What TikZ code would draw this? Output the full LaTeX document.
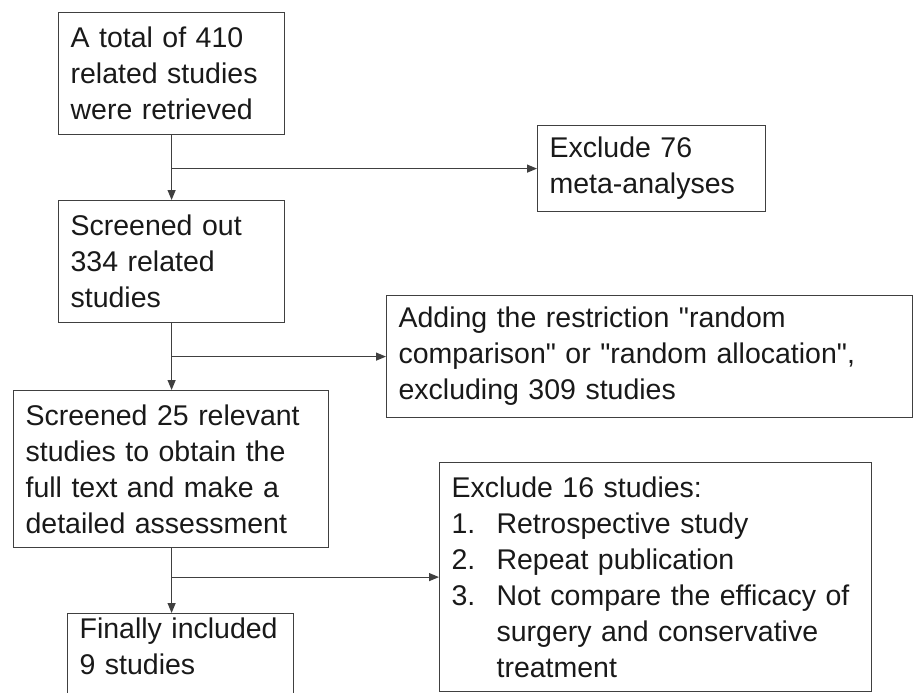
\documentclass[tikz,border=0pt]{standalone}
\usepackage{fontspec}
\setmainfont{Liberation Sans}
\usetikzlibrary{arrows.meta,positioning,calc}
\newcommand{\numitem}[1]{\makebox[45pt][l]{#1}}
\tikzset{box/.style={draw=black!75,line width=1.2pt,anchor=north west,align=left,inner xsep=12pt,inner ysep=0pt,font=\fontsize{28.5}{36}\selectfont,text=black!90},
flow/.style={draw=black!75,line width=1.2pt,-{Triangle[length=10pt,width=8pt]}}}
\begin{document}
\begin{tikzpicture}[x=1pt,y=-1pt]
\useasboundingbox (0,0) rectangle (914,693);
% boxes
\node[box,text width=202pt,minimum height=122pt] (total) at (58,12) {A total of 410\\related studies\\were retrieved};
\node[box,text width=204pt,minimum height=86pt] (ex76) at (537,125) {Exclude 76\\meta-analyses};
\node[box,text width=202pt,minimum height=122pt] (scr) at (58,200) {Screened out\\334 related\\studies};
\node[box,text width=502pt,minimum height=122pt] (add) at (386,295) {Adding the restriction \textquotedbl random\\comparison\textquotedbl{} or \textquotedbl random allocation\textquotedbl,\\excluding 309 studies};
\node[box,text width=291pt,minimum height=157pt] (full) at (13,390) {Screened 25 relevant\\studies to obtain the\\full text and make a\\detailed assessment};
\node[box,text width=408pt,minimum height=229pt] (ex16) at (439,462) {Exclude 16 studies:\\\numitem{1.}Retrospective study\\\numitem{2.}Repeat publication\\\numitem{3.}Not compare the efficacy of\\\numitem{}surgery and conservative\\\numitem{}treatment};
\node[box,text width=202pt,inner ysep=4pt,text depth=90pt] (fin) at (67,613) {Finally included\\9 studies};
% connectors
\coordinate (b1) at (total.south |- ex76.west); \coordinate (b2) at (total.south |- add.west); \coordinate (b3) at (total.south |- ex16.west);
\draw[flow] (total.south) -- (total.south |- scr.north); \draw[flow] (b1) -- (ex76.west);
\draw[flow] (scr.south) -- (scr.south |- full.north); \draw[flow] (b2) -- (add.west);
\draw[flow] (total.south |- full.south) -- (total.south |- fin.north); \draw[flow] (b3) -- (ex16.west);
\end{tikzpicture}
\end{document}
